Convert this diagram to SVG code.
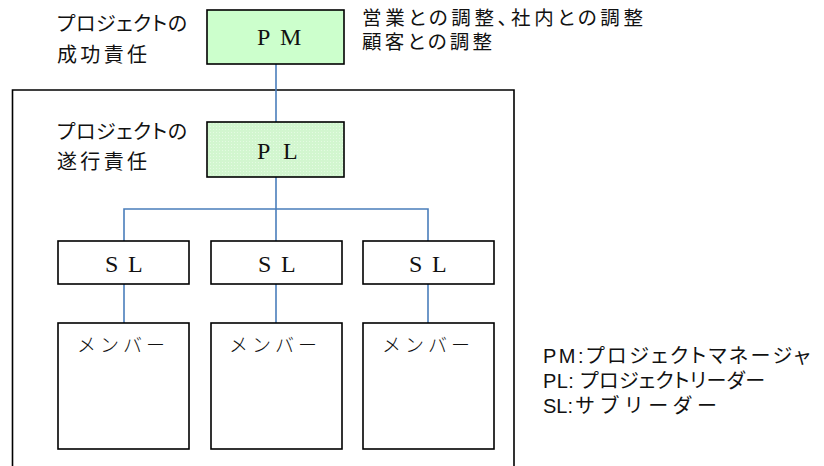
<svg xmlns="http://www.w3.org/2000/svg" width="824" height="466" viewBox="0 0 824 466">
<style>
.box{stroke:#000;stroke-width:1.6;}
.white{fill:#fff;}
.frame{fill:none;stroke:#000;stroke-width:1.6;}
.conn{fill:none;stroke:#4a7ebb;stroke-width:1.6;}
.ser{font-family:"Liberation Serif","DejaVu Serif",serif;font-size:24px;fill:#111;}
.mem{font-family:"Noto Sans CJK JP",sans-serif;font-size:19px;font-weight:300;fill:#111;}
.lab{font-family:"Noto Sans CJK JP",sans-serif;font-size:20px;fill:#111;font-feature-settings:"palt";}
.lab2{font-family:"Liberation Sans","Noto Sans CJK JP",sans-serif;font-size:19.5px;fill:#111;font-feature-settings:"palt";}
.leg{font-family:"Liberation Sans","Noto Sans CJK JP",sans-serif;font-size:20px;fill:#111;font-feature-settings:"palt";}
.full{font-feature-settings:normal;}
</style>
<defs>
<pattern id="grid" width="3" height="3" patternUnits="userSpaceOnUse">
<rect width="3" height="3" fill="#d2f6cf"/>
<rect width="1" height="1" fill="#e4fbe2"/>
</pattern>
</defs>
<rect width="824" height="466" fill="#fff"/>
<path class="frame" d="M12.5,470 V90 H514 V470"/>
<g id="connectors">
<line class="conn" x1="276" y1="64" x2="276" y2="122"/>
<line class="conn" x1="276" y1="177" x2="276" y2="241"/>
<polyline class="conn" points="124,241 124,209 428,209 428,241"/>
<line class="conn" x1="124" y1="284" x2="124" y2="323"/>
<line class="conn" x1="276" y1="284" x2="276" y2="323"/>
<line class="conn" x1="428" y1="284" x2="428" y2="323"/>
</g>
<g id="pm">
<rect class="box" x="207" y="10" width="137" height="54" fill="#ccffcc"/>
<text class="ser" x="257 280" y="45">PM</text>
</g>
<g id="pl">
<rect class="box" x="207" y="122" width="137" height="55" fill="url(#grid)"/>
<text class="ser" x="257 283" y="159">PL</text>
</g>
<g id="sl1">
<rect class="box white" x="58" y="241" width="131" height="43"/>
<text class="ser" x="105 128" y="271.5">SL</text>
</g>
<g id="sl2">
<rect class="box white" x="211" y="241" width="131" height="43"/>
<text class="ser" x="258 281" y="271.5">SL</text>
</g>
<g id="sl3">
<rect class="box white" x="363" y="241" width="131" height="43"/>
<text class="ser" x="409 432" y="271.5">SL</text>
</g>
<g id="member1">
<rect class="box white" x="58" y="323" width="131" height="126"/>
<text class="mem" x="77" y="352" textLength="88">メンバー</text>
</g>
<g id="member2">
<rect class="box white" x="211" y="323" width="131" height="126"/>
<text class="mem" x="229" y="352" textLength="88">メンバー</text>
</g>
<g id="member3">
<rect class="box white" x="363" y="323" width="131" height="126"/>
<text class="mem" x="382" y="352" textLength="88">メンバー</text>
</g>
<g id="label-pm">
<text class="lab" x="57" y="30.5" textLength="130">プロジェクトの</text>
<text class="lab" x="57" y="61.5" textLength="90">成功責任</text>
</g>
<g id="label-pl">
<text class="lab" x="57" y="138.5" textLength="130">プロジェクトの</text>
<text class="lab" x="57" y="168.5" textLength="90">遂行責任</text>
</g>
<g id="label-coord">
<text class="lab2" x="362" y="25" textLength="281">営業との調整、社内との調整</text>
<text class="lab2" x="362" y="49" textLength="130">顧客との調整</text>
</g>
<g id="legend">
<text class="leg" x="543" y="363" textLength="267">PM:プロジェクトマネージャ</text>
<text class="leg" x="543" y="387.5" textLength="222">PL: プロジェクトリーダー</text>
<text class="leg" y="413"><tspan x="543">SL:</tspan><tspan class="full" x="575" textLength="142">サブリーダー</tspan></text>
</g>
</svg>
